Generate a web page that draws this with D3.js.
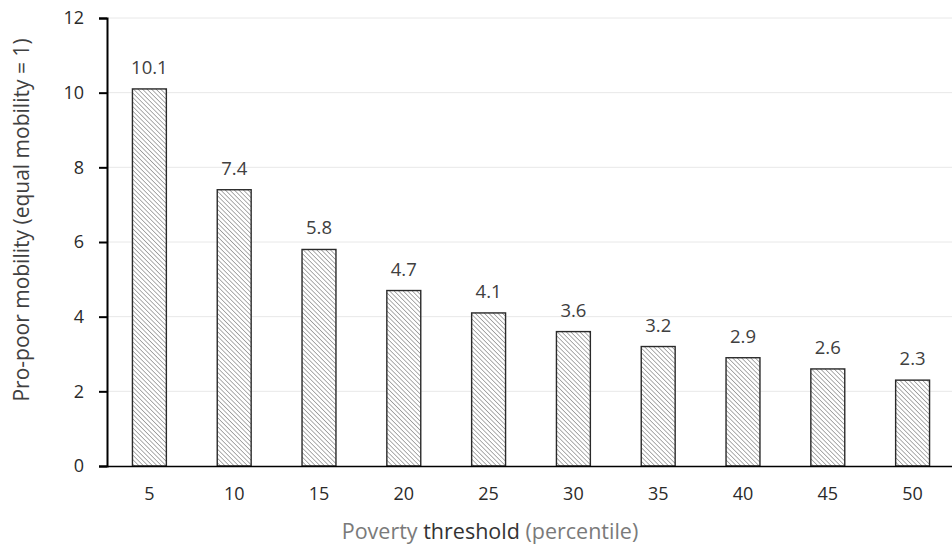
<!DOCTYPE html>
<html>
<head>
<meta charset="utf-8">
<script src="https://cdn.jsdelivr.net/npm/d3@7"></script>
<style>
  body { margin: 0; background: #fff; }
  text { font-family: "Open Sans", "DejaVu Sans", sans-serif; }
</style>
</head>
<body>
<div class="chart"></div>
<script>
const thresholds = ["5", "10", "15", "20", "25", "30", "35", "40", "45", "50"];
const mobility = [10.1, 7.4, 5.8, 4.7, 4.1, 3.6, 3.2, 2.9, 2.6, 2.3];
const yTicks = [0, 2, 4, 6, 8, 10, 12];

const margin = {top: 18, left: 107, right: -3, bottom: 83};
const width = 952 - margin.left - margin.right;
const height = 549 - margin.top - margin.bottom;

const svg = d3.select(".chart").append("svg")
    .attr("width", 952)
    .attr("height", 549);

const defs = svg.append("defs");
const pat = defs.append("pattern")
    .attr("id", "hatch")
    .attr("patternUnits", "userSpaceOnUse")
    .attr("width", 3.2)
    .attr("height", 3.2)
    .attr("patternTransform", "rotate(-45)");
pat.append("rect").attr("width", 3.2).attr("height", 3.2).attr("fill", "#fff");
pat.append("line")
    .attr("x1", 0).attr("y1", 0).attr("x2", 0).attr("y2", 3.2)
    .attr("stroke", "#9a9a9a")
    .attr("stroke-width", 1.6);

const g = svg.append("g")
    .attr("transform", `translate(${margin.left},${margin.top})`);

const x = d3.scaleBand()
    .domain(thresholds)
    .range([0, width])
    .paddingInner(0.6)
    .paddingOuter(0.3);

const y = d3.scaleLinear()
    .domain([0, 12])
    .range([height, 0]);

// gridlines
g.selectAll(".grid")
    .data(yTicks.slice(1))
    .enter()
    .append("line")
    .attr("x1", 0)
    .attr("x2", width)
    .attr("y1", d => y(d))
    .attr("y2", d => y(d))
    .attr("stroke", "#e8e8e8")
    .attr("stroke-width", 1);

// bars
g.selectAll(".bar")
    .data(mobility)
    .enter()
    .append("rect")
    .attr("x", (d, i) => x(thresholds[i]))
    .attr("y", d => y(d))
    .attr("width", x.bandwidth())
    .attr("height", d => height - y(d))
    .attr("fill", "url(#hatch)")
    .attr("stroke", "#2a2a2a")
    .attr("stroke-width", 1.4);

// value labels
g.selectAll(".val")
    .data(mobility)
    .enter()
    .append("text")
    .attr("x", (d, i) => x(thresholds[i]) + x.bandwidth() / 2)
    .attr("y", d => y(d) - 15)
    .attr("text-anchor", "middle")
    .attr("font-size", 18.5)
    .attr("fill", "#404040")
    .text(d => d3.format(".1f")(d));

// axes
const yAxis = d3.axisLeft(y).tickValues(yTicks).tickSize(8).tickPadding(15);
const yg = g.append("g").call(yAxis);
yg.select(".domain").attr("stroke", "#000").attr("stroke-width", 2);
yg.selectAll(".tick line").attr("stroke", "#000").attr("stroke-width", 2);
yg.selectAll(".tick text").attr("font-size", 18).attr("fill", "#2a2a2a")
    .style("font-family", "'Open Sans', sans-serif");

const xAxis = d3.axisBottom(x).tickSize(0).tickPadding(21);
const xg = g.append("g").attr("transform", `translate(0,${height})`).call(xAxis);
xg.select(".domain").attr("stroke", "#000").attr("stroke-width", 1.5);
xg.selectAll(".tick text").attr("font-size", 18).attr("fill", "#2a2a2a")
    .style("font-family", "'Open Sans', sans-serif");

// axis titles
const xt = svg.append("text")
    .attr("x", 490)
    .attr("y", 539)
    .attr("text-anchor", "middle")
    .attr("font-size", 21.5);
xt.append("tspan").attr("fill", "#7a7a7a").text("Poverty ");
xt.append("tspan").attr("fill", "#333").text("threshold");
xt.append("tspan").attr("fill", "#7a7a7a").text(" (percentile)");

svg.append("text")
    .attr("transform", "translate(29,220) rotate(-90)")
    .attr("text-anchor", "middle")
    .attr("font-size", 21)
    .attr("fill", "#404040")
    .text("Pro-poor mobility (equal mobility = 1)");
</script>
</body>
</html>
